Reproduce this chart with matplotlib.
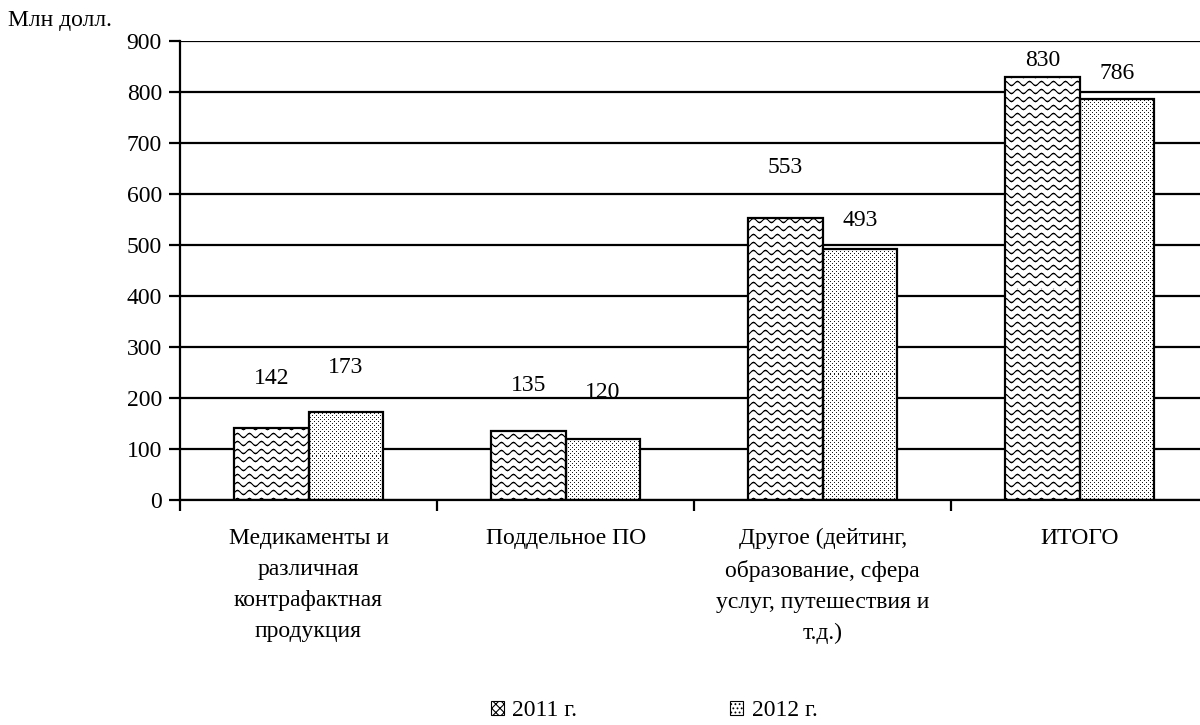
import matplotlib
matplotlib.use('Agg')
import matplotlib.pyplot as plt
import numpy as np
from matplotlib.patches import Patch

plt.rcParams['font.family'] = ['Liberation Serif', 'DejaVu Serif']
plt.rcParams['hatch.linewidth'] = 0.8

# data
categories = ['Медикаменты и\nразличная\nконтрафактная\nпродукция',
              'Поддельное ПО',
              'Другое (дейтинг,\nобразование, сфера\nуслуг, путешествия и\nт.д.)',
              'ИТОГО']
values_2011 = [142, 135, 553, 830]
values_2012 = [173, 120, 493, 786]
series_names = ['2011 г.', '2012 г.']
yticks = [0, 100, 200, 300, 400, 500, 600, 700, 800, 900]
# how far above the bar each number sits (data units)
label_lift_2011 = [97, 90, 100, 33]
label_lift_2012 = [88, 92, 56, 51]

FS = 17
DPI = 100

fig = plt.figure(figsize=(12, 7.25), dpi=DPI)
ax = fig.add_axes([0.15, 0.31, 0.857, 0.633])
ax.set_xlim(-0.5, 3.5)
ax.set_ylim(0, 900)

x = np.arange(len(categories))
w = 0.29

ax.set_axisbelow(True)
ax.yaxis.grid(True, color='black', linewidth=1.6)
ax.set_yticks(yticks)
ax.tick_params(axis='y', direction='out', length=8, width=1.6, pad=5, labelsize=FS)

bars1 = ax.bar(x - w / 2, values_2011, w, color='white', edgecolor='none', zorder=2)
bars2 = ax.bar(x + w / 2, values_2012, w, color='white', edgecolor='none', zorder=2)


def wave_texture(px, py):
    # horizontal wavy lines
    d = np.mod(py + 2.0 * np.sin(2 * np.pi * px / 12.0), 8.0)
    d = np.minimum(d, 8.0 - d)
    return np.clip(1.3 - d, 0, 1)


def dot_texture(px, py):
    px = px.astype(int)
    py = py.astype(int)
    a = ((px % 4 == 0) & (py % 4 == 0)) | ((px % 4 == 2) & (py % 4 == 2))
    return a * 0.9


def fill_pattern(bars, texture):
    for b in bars:
        x0, y0 = b.get_x(), b.get_y()
        x1, y1 = x0 + b.get_width(), y0 + b.get_height()
        (p0x, p0y), (p1x, p1y) = ax.transData.transform([(x0, y0), (x1, y1)])
        nw = max(int(round(p1x - p0x)), 1)
        nh = max(int(round(p1y - p0y)), 1)
        cols = np.arange(nw) + int(round(p0x))
        rows = np.arange(nh)[::-1] + int(round(p0y))
        PX, PY = np.meshgrid(cols, rows)
        alpha = texture(PX, PY)
        img = np.zeros((nh, nw, 4))
        img[..., 3] = alpha
        ax.imshow(img, extent=(x0, x1, y0, y1), interpolation='nearest',
                  aspect='auto', zorder=2.5, clip_path=b, clip_on=True)


fig.canvas.draw()
fill_pattern(bars1, wave_texture)
fill_pattern(bars2, dot_texture)
ax.set_xlim(-0.5, 3.5)
ax.set_ylim(0, 900)

# outlines on top of the textures
ax.bar(x - w / 2, values_2011, w, color='none', edgecolor='black', linewidth=1.6, zorder=3)
ax.bar(x + w / 2, values_2012, w, color='none', edgecolor='black', linewidth=1.6, zorder=3)

for i in range(len(categories)):
    ax.text(x[i] - w / 2, values_2011[i] + label_lift_2011[i], str(values_2011[i]),
            ha='center', va='center', fontsize=FS)
    ax.text(x[i] + w / 2, values_2012[i] + label_lift_2012[i], str(values_2012[i]),
            ha='center', va='center', fontsize=FS)

ax.set_xticks(x)
ax.set_xticklabels(categories, fontsize=FS, linespacing=1.62, va='top')
ax.tick_params(axis='x', which='major', length=0, pad=20)
ax.set_xticks(np.arange(-0.5, 3.6, 1.0), minor=True)
ax.tick_params(axis='x', which='minor', direction='out', length=8, width=1.6)

for s in ['top', 'right']:
    ax.spines[s].set_visible(False)
for s in ['left', 'bottom']:
    ax.spines[s].set_linewidth(1.6)

fig.text(0.007, 0.972, 'Млн долл.', fontsize=FS, ha='left', va='center')

handles = [Patch(facecolor='white', edgecolor='black', hatch='xxxx', linewidth=0.8),
           Patch(facecolor='white', edgecolor='black', hatch='....', linewidth=0.8)]
fig.legend(handles, series_names, loc='center', bbox_to_anchor=(0.545, 0.02), ncol=2,
           frameon=False, fontsize=FS, handlelength=0.55, handleheight=0.55,
           handletextpad=0.35, columnspacing=6.5)

fig.savefig('out.png', dpi=DPI)
